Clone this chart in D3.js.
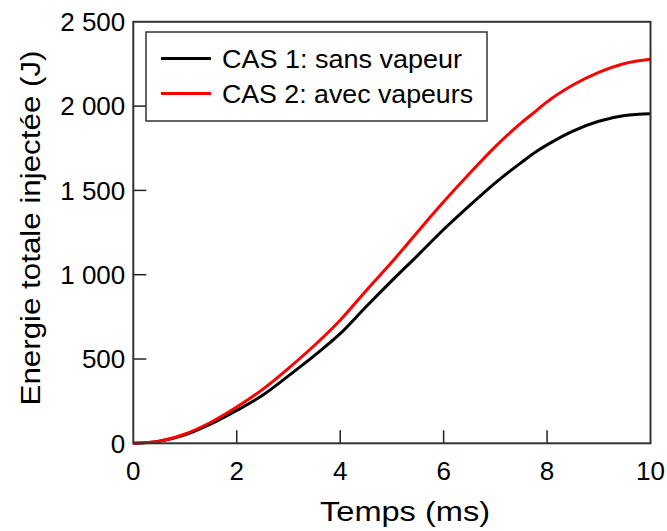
<!DOCTYPE html>
<html><head><meta charset="utf-8">
<script src="https://cdn.jsdelivr.net/npm/d3@7"></script>
<style>body{margin:0;background:#fff}svg{display:block}text{font-family:"Liberation Sans",Arial,sans-serif;fill:#000}</style>
</head><body><svg id="c" width="667" height="531"></svg>
<script>
const time = [0,0.5,1,1.5,2,2.5,3,3.5,4,4.5,5,5.5,6,6.5,7,7.5,7.8,8,8.5,9,9.5,10];
const cas1 = [0,12,50,115,195,285,400,520,650,810,965,1115,1268,1410,1545,1665,1732,1770,1852,1910,1944,1955];
const cas2 = [0,13,55,125,215,320,445,580,730,905,1075,1255,1432,1600,1760,1900,1975,2025,2125,2200,2253,2278];
const seriesNames = ["CAS 1: sans vapeur","CAS 2: avec vapeurs"];
const seriesColors = ["#000000","#ff0000"];
const xTicks = [0,2,4,6,8,10];
const yTicks = [0,500,1000,1500,2000,2500];
const xTitle = "Temps (ms)";
const yTitle = "Energie totale injectée (J)";

const svg = d3.select("#c");
const L=133.3, R=650.5, T=21.8, B=443.3;
const x = d3.scaleLinear().domain([0,10]).range([L,R]);
const y = d3.scaleLinear().domain([0,2500]).range([B,T]);
const fmt = v => d3.format(",")(v).replace(/,/g," ");

// ticks (inward)
const tl = 13;
svg.append("g").selectAll("line").data(xTicks.filter(d=>d>0&&d<10)).join("line")
  .attr("x1",d=>x(d)).attr("x2",d=>x(d)).attr("y1",B).attr("y2",B-tl)
  .attr("stroke","#222").attr("stroke-width",1.5);
svg.append("g").selectAll("line").data(yTicks.filter(d=>d>0&&d<2500)).join("line")
  .attr("y1",d=>y(d)).attr("y2",d=>y(d)).attr("x1",L).attr("x2",L+tl)
  .attr("stroke","#222").attr("stroke-width",1.5);

// tick labels
svg.append("g").selectAll("text").data(xTicks).join("text")
  .attr("x",d=>x(d)).attr("y",479.5).attr("text-anchor","middle")
  .attr("font-size",26).text(d=>d);
svg.append("g").selectAll("text").data(yTicks).join("text")
  .attr("x",L-8).attr("y",d=>y(d)).attr("dy","0.36em").attr("text-anchor","end")
  .attr("font-size",26).text(d=>fmt(d));

// lines
const line = d3.line().x((d,i)=>x(time[i])).y(d=>y(d)).curve(d3.curveMonotoneX);
[cas1,cas2].forEach((s,k)=>{
  svg.append("path").datum(s).attr("d",line).attr("fill","none")
    .attr("stroke",seriesColors[k]).attr("stroke-width",3).attr("stroke-linejoin","round");
});

// frame
svg.append("rect").attr("x",L).attr("y",T).attr("width",R-L).attr("height",B-T)
  .attr("fill","none").attr("stroke","#333").attr("stroke-width",2);

// legend
const lg = svg.append("g");
lg.append("rect").attr("x",146).attr("y",32).attr("width",341).attr("height",89)
  .attr("fill","#fff").attr("stroke","#333").attr("stroke-width",1.5);
seriesNames.forEach((n,k)=>{
  const yy = 58.5 + k*35;
  lg.append("line").attr("x1",161).attr("x2",211).attr("y1",yy).attr("y2",yy)
    .attr("stroke",seriesColors[k]).attr("stroke-width",3);
  lg.append("text").attr("x",222).attr("y",yy).attr("dy","0.36em").attr("font-size",25.5)
    .attr("textLength", k==0?240:251).attr("lengthAdjust","spacingAndGlyphs").text(n);
});

// axis titles
svg.append("text").attr("x",405).attr("y",521).attr("text-anchor","middle")
  .attr("font-size",27).attr("textLength",170).attr("lengthAdjust","spacingAndGlyphs").text(xTitle);
svg.append("text").attr("transform","translate(39.5,228) rotate(-90)").attr("text-anchor","middle")
  .attr("font-size",27).attr("textLength",355).attr("lengthAdjust","spacingAndGlyphs").text(yTitle);
</script></body></html>
